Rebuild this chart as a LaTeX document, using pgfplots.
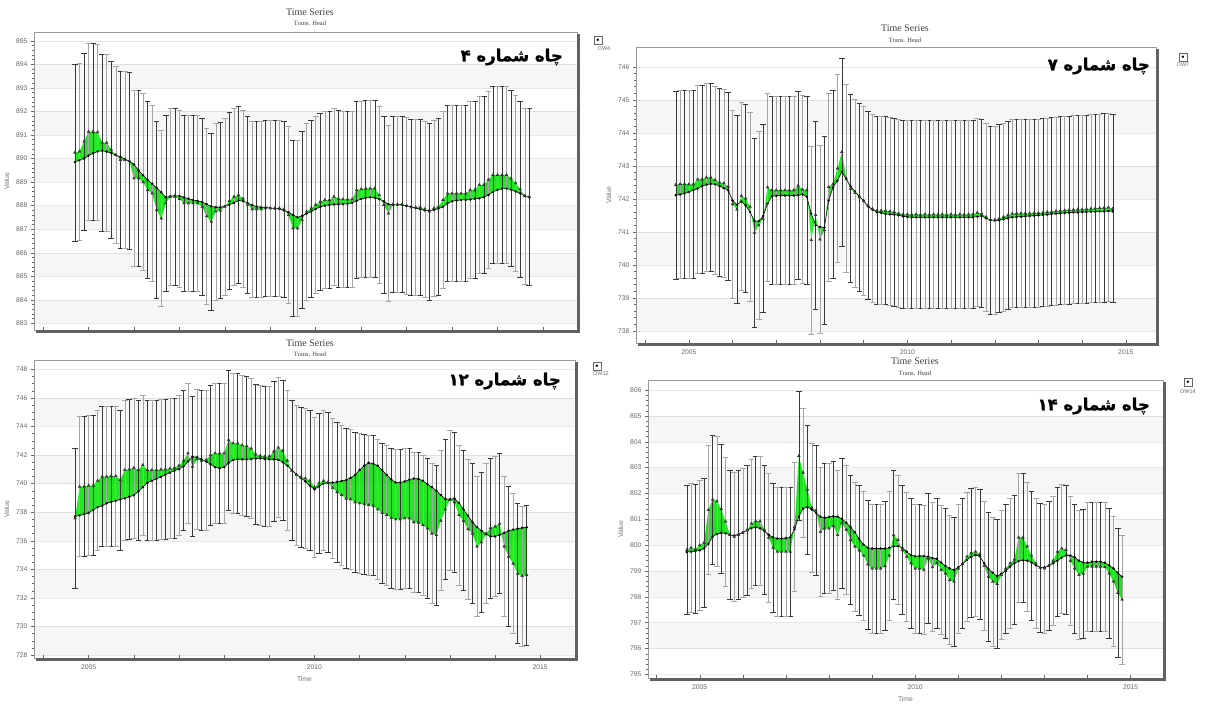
\documentclass[border=0pt]{standalone}
\usepackage{fontspec}
\setmainfont{Liberation Sans}
\newfontfamily\serif{Liberation Serif}
\newfontfamily\fa[Script=Arabic, BoldFeatures={FakeBold=1.2}]{DejaVu Sans}
\TeXXeTstate=1
\usepackage{pgfplots}
\usepackage{pgfplotstable}
\pgfplotsset{compat=1.18}
\usepgfplotslibrary{fillbetween}
\definecolor{gfill}{RGB}{35,232,35}

\pgfplotstableread{
x o c
2004.7 890.25 889.85
2004.8 890.30 889.93
2004.9 890.72 890.00
2005.0 891.14 890.12
2005.1 891.14 890.22
2005.2 891.12 890.30
2005.3 890.67 890.33
2005.4 890.67 890.29
2005.5 890.38 890.23
2005.6 890.15 890.15
2005.7 889.94 890.07
2005.8 889.94 889.98
2005.9 889.90 889.88
2006.0 889.16 889.75
2006.1 889.16 889.50
2006.2 889.00 889.29
2006.3 888.66 889.09
2006.4 888.52 888.93
2006.5 887.82 888.75
2006.6 887.46 888.57
2006.7 888.10 888.35
2006.8 888.38 888.40
2006.9 888.38 888.42
2007.0 888.28 888.41
2007.1 888.10 888.35
2007.2 888.10 888.29
2007.3 888.10 888.24
2007.4 888.10 888.20
2007.5 887.95 888.15
2007.6 887.55 888.06
2007.7 887.32 887.97
2007.8 887.75 887.93
2007.9 887.80 887.93
2008.0 887.96 887.97
2008.1 888.20 888.04
2008.2 888.38 888.12
2008.3 888.45 888.22
2008.4 888.30 888.19
2008.5 888.05 888.11
2008.6 887.85 888.02
2008.7 887.85 887.96
2008.8 887.85 887.93
2008.9 887.89 887.92
2009.0 887.89 887.90
2009.1 887.89 887.88
2009.2 887.89 887.86
2009.3 887.85 887.80
2009.4 887.60 887.72
2009.5 887.04 887.61
2009.6 887.04 887.50
2009.7 887.40 887.57
2009.8 887.75 887.66
2009.9 887.88 887.75
2010.0 888.03 887.86
2010.1 888.17 887.95
2010.2 888.24 888.00
2010.3 888.24 888.03
2010.4 888.38 888.05
2010.5 888.30 888.06
2010.6 888.27 888.07
2010.7 888.27 888.08
2010.8 888.27 888.12
2010.9 888.66 888.20
2011.0 888.70 888.28
2011.1 888.73 888.33
2011.2 888.73 888.35
2011.3 888.73 888.33
2011.4 888.45 888.27
2011.5 888.03 888.18
2011.6 887.67 888.06
2011.7 888.06 888.03
2011.8 888.06 888.03
2011.9 888.06 888.03
2012.0 888.00 887.99
2012.1 887.93 887.95
2012.2 887.93 887.90
2012.3 887.93 887.85
2012.4 887.85 887.80
2012.5 887.75 887.79
2012.6 887.89 887.82
2012.7 887.95 887.87
2012.8 888.24 887.95
2012.9 888.52 888.10
2013.0 888.52 888.18
2013.1 888.52 888.22
2013.2 888.52 888.24
2013.3 888.52 888.24
2013.4 888.66 888.26
2013.5 888.66 888.29
2013.6 888.88 888.31
2013.7 888.88 888.36
2013.8 889.10 888.45
2013.9 889.30 888.58
2014.0 889.30 888.67
2014.1 889.30 888.72
2014.2 889.30 888.72
2014.3 889.16 888.68
2014.4 888.95 888.60
2014.5 888.70 888.52
2014.6 888.40 888.42
2014.7 888.38 888.35
}\pA

\pgfplotstableread{
x o c
2004.7 742.42 742.11
2004.8 742.45 742.13
2004.9 742.45 742.16
2005.0 742.44 742.21
2005.1 742.44 742.26
2005.2 742.59 742.31
2005.3 742.59 742.38
2005.4 742.65 742.43
2005.5 742.65 742.45
2005.6 742.57 742.44
2005.7 742.50 742.39
2005.8 742.47 742.32
2005.9 742.37 742.26
2006.0 741.84 741.95
2006.1 741.68 741.82
2006.2 742.09 741.92
2006.3 742.01 741.80
2006.4 741.76 741.60
2006.5 740.97 741.33
2006.6 741.20 741.32
2006.7 741.40 741.48
2006.8 742.35 741.85
2006.9 742.26 742.08
2007.0 742.26 742.09
2007.1 742.26 742.10
2007.2 742.26 742.10
2007.3 742.26 742.10
2007.4 742.26 742.10
2007.5 742.40 742.11
2007.6 742.28 742.13
2007.7 742.26 742.06
2007.8 740.75 741.55
2007.9 741.51 741.20
2008.0 740.77 741.15
2008.1 741.05 741.13
2008.2 742.36 741.95
2008.3 742.45 742.35
2008.4 742.92 742.55
2008.5 743.42 742.82
2008.6 742.62 742.60
2008.7 742.31 742.38
2008.8 742.18 742.22
2008.9 742.05 742.08
2009.0 741.94 741.93
2009.1 741.80 741.77
2009.2 741.70 741.67
2009.3 741.64 741.60
2009.4 741.64 741.57
2009.5 741.64 741.54
2009.6 741.62 741.53
2009.7 741.60 741.52
2009.8 741.56 741.50
2009.9 741.53 741.47
2010.0 741.53 741.45
2010.1 741.52 741.44
2010.2 741.53 741.44
2010.3 741.52 741.44
2010.4 741.53 741.44
2010.5 741.52 741.44
2010.6 741.53 741.44
2010.7 741.52 741.44
2010.8 741.53 741.44
2010.9 741.52 741.44
2011.0 741.53 741.44
2011.1 741.52 741.44
2011.2 741.53 741.44
2011.3 741.52 741.44
2011.4 741.53 741.44
2011.5 741.53 741.44
2011.6 741.58 741.46
2011.7 741.55 741.48
2011.8 741.45 741.41
2011.9 741.36 741.36
2012.0 741.36 741.34
2012.1 741.40 741.35
2012.2 741.45 741.38
2012.3 741.50 741.41
2012.4 741.55 741.44
2012.5 741.56 741.45
2012.6 741.56 741.46
2012.7 741.56 741.47
2012.8 741.56 741.48
2012.9 741.57 741.49
2013.0 741.57 741.50
2013.1 741.58 741.51
2013.2 741.60 741.52
2013.3 741.61 741.54
2013.4 741.63 741.55
2013.5 741.64 741.56
2013.6 741.65 741.57
2013.7 741.66 741.58
2013.8 741.67 741.59
2013.9 741.68 741.59
2014.0 741.68 741.60
2014.1 741.69 741.60
2014.2 741.70 741.61
2014.3 741.71 741.61
2014.4 741.72 741.62
2014.5 741.73 741.62
2014.6 741.74 741.63
2014.7 741.70 741.62
}\pB

\pgfplotstableread{
x o c
2004.7 737.57 737.70
2004.8 739.79 737.78
2004.9 739.80 737.85
2005.0 739.86 737.95
2005.1 739.86 738.15
2005.2 740.20 738.35
2005.3 740.49 738.45
2005.4 740.49 738.62
2005.5 740.53 738.72
2005.6 740.53 738.80
2005.7 740.25 738.88
2005.8 740.95 738.97
2005.9 741.00 739.08
2006.0 741.10 739.18
2006.1 740.95 739.45
2006.2 741.30 739.75
2006.3 740.95 740.05
2006.4 740.95 740.20
2006.5 740.95 740.33
2006.6 740.98 740.47
2006.7 741.00 740.62
2006.8 741.05 740.77
2006.9 741.10 740.90
2007.0 741.25 741.02
2007.1 741.60 741.20
2007.2 742.12 741.55
2007.3 741.19 741.88
2007.4 741.70 741.85
2007.5 741.60 741.70
2007.6 741.65 741.55
2007.7 742.00 741.35
2007.8 742.12 741.15
2007.9 742.12 741.07
2008.0 742.12 741.15
2008.1 743.05 741.45
2008.2 742.82 741.65
2008.3 742.82 741.70
2008.4 742.68 741.70
2008.5 742.63 741.70
2008.6 742.45 741.72
2008.7 742.05 741.75
2008.8 741.95 741.77
2008.9 741.89 741.72
2009.0 741.90 741.70
2009.1 742.24 741.70
2009.2 742.52 741.65
2009.3 742.30 741.50
2009.4 741.60 741.25
2009.5 740.90 740.95
2009.6 740.60 740.65
2009.7 740.45 740.40
2009.8 740.37 740.15
2009.9 740.20 739.85
2010.0 739.75 739.60
2010.1 740.02 739.80
2010.2 740.20 740.00
2010.3 740.10 740.05
2010.4 739.70 740.07
2010.5 739.40 740.12
2010.6 739.20 740.18
2010.7 738.95 740.25
2010.8 738.90 740.40
2010.9 738.70 740.60
2011.0 738.62 740.95
2011.1 738.55 741.25
2011.2 738.50 741.45
2011.3 738.45 741.40
2011.4 738.20 741.25
2011.5 737.95 740.95
2011.6 737.80 740.60
2011.7 737.60 740.30
2011.8 737.50 740.07
2011.9 737.50 740.07
2012.0 737.57 740.15
2012.1 737.57 740.28
2012.2 737.30 740.35
2012.3 737.27 740.33
2012.4 737.10 740.20
2012.5 736.87 739.97
2012.6 736.50 739.75
2012.7 736.40 739.50
2012.8 737.40 739.20
2012.9 738.20 738.92
2013.0 738.85 738.90
2013.1 738.70 738.95
2013.2 737.80 738.65
2013.3 737.40 738.20
2013.4 736.80 737.75
2013.5 736.50 737.30
2013.6 735.60 736.95
2013.7 735.90 736.70
2013.8 736.50 736.45
2013.9 736.90 736.30
2014.0 737.00 736.30
2014.1 737.20 736.40
2014.2 735.60 736.55
2014.3 734.89 736.70
2014.4 734.40 736.78
2014.5 733.70 736.85
2014.6 733.53 736.90
2014.7 733.60 736.94
}\pC

\pgfplotstableread{
x o c
2004.7 799.81 799.73
2004.8 799.90 799.75
2004.9 799.85 799.77
2005.0 800.00 799.80
2005.1 800.10 799.87
2005.2 801.36 800.05
2005.3 801.77 800.33
2005.4 801.70 800.43
2005.5 801.40 800.47
2005.6 800.91 800.46
2005.7 800.40 800.40
2005.8 800.33 800.37
2005.9 800.40 800.42
2006.0 800.48 800.49
2006.1 800.58 800.58
2006.2 800.84 800.66
2006.3 800.93 800.69
2006.4 800.93 800.65
2006.5 800.60 800.55
2006.6 800.30 800.40
2006.7 799.90 800.30
2006.8 799.75 800.26
2006.9 799.75 800.26
2007.0 799.75 800.27
2007.1 799.75 800.30
2007.2 800.70 800.62
2007.3 803.45 801.10
2007.4 802.80 801.42
2007.5 802.15 801.47
2007.6 801.45 801.38
2007.7 801.35 801.25
2007.8 800.52 801.10
2007.9 800.65 801.06
2008.0 800.65 801.09
2008.1 800.74 801.12
2008.2 800.40 801.10
2008.3 800.85 801.02
2008.4 800.60 800.87
2008.5 800.20 800.70
2008.6 799.95 800.50
2008.7 799.80 800.24
2008.8 799.60 800.02
2008.9 799.25 799.90
2009.0 799.10 799.87
2009.1 799.10 799.87
2009.2 799.10 799.87
2009.3 799.19 799.87
2009.4 799.60 799.90
2009.5 800.39 799.95
2009.6 800.20 799.96
2009.7 799.81 799.90
2009.8 799.55 799.75
2009.9 799.30 799.62
2010.0 799.10 799.57
2010.1 799.10 799.58
2010.2 799.05 799.58
2010.3 799.49 799.56
2010.4 799.15 799.50
2010.5 799.30 799.47
2010.6 799.05 799.33
2010.7 798.91 799.20
2010.8 798.65 799.10
2010.9 798.59 799.04
2011.0 799.10 799.15
2011.1 799.30 799.27
2011.2 799.55 799.43
2011.3 799.70 799.55
2011.4 799.75 799.62
2011.5 799.65 799.57
2011.6 799.20 799.30
2011.7 798.78 799.08
2011.8 798.59 798.93
2011.9 798.50 798.80
2012.0 798.85 798.90
2012.1 799.10 799.00
2012.2 799.30 799.17
2012.3 799.45 799.30
2012.4 800.30 799.38
2012.5 800.30 799.42
2012.6 799.95 799.40
2012.7 799.60 799.33
2012.8 799.30 799.22
2012.9 799.13 799.14
2013.0 799.10 799.14
2013.1 799.20 799.20
2013.2 799.40 799.30
2013.3 799.75 799.40
2013.4 799.87 799.52
2013.5 799.82 799.60
2013.6 799.40 799.60
2013.7 799.10 799.53
2013.8 798.85 799.40
2013.9 798.90 799.33
2014.0 799.17 799.32
2014.1 799.17 799.36
2014.2 799.17 799.36
2014.3 799.17 799.36
2014.4 799.15 799.32
2014.5 798.91 799.22
2014.6 798.60 799.10
2014.7 798.15 798.93
2014.8 797.90 798.78
}\pD

\pgfplotsset{
  tsaxis/.style={
    scale only axis, anchor=south west,
    xmin=2003.8, xmax=2015.75,
    xtick={2004,...,2015},
    xticklabels={,2005,,,,,2010,,,,,2015},
    xtick pos=lower, ytick pos=left,
    tick align=outside,
    major tick length=3pt, minor tick length=1.8pt,
    tick style={black!60, line width=0.4pt},
    xtick style={yshift=3pt},
    axis line style={black!40, line width=0.5pt},
    ticklabel style={font=\fontsize{6.8}{8}\selectfont, text=black!60},
    /pgf/number format/assume math mode=true,
    /pgf/number format/1000 sep={},
    label style={font=\fontsize{6.8}{8}\selectfont, text=black!55},
    ylabel={Value},
    ymajorgrids, major grid style={black!9, line width=0.4pt},
    minor y tick num=4,
  },
  obsmk/.style={only marks, mark=triangle*, mark size=1.7pt, black!80, mark options={fill=black!75, draw=black!85, line width=0.2pt}},
  compln/.style={black, line width=0.55pt, mark=*, mark size=1.15pt, mark options={fill=black, line width=0.2pt}},
  bars/.style n args={3}{draw=none, mark=none, forget plot, unbounded coords=discard, filter discard warning=false,
    x filter/.expression={mod(\coordindex,2)==#2 ? x : nan},
    error bars/.cd, y dir=both, y fixed=#1,
    error bar style={draw=#3, line width=0.5pt},
    error mark options={draw=#3, line width=0.5pt, mark size=2.8pt, rotate=90}},
}

\newcommand{\band}[2]{\fill[black, opacity=0.035] (axis cs:2003.8,#1) rectangle (axis cs:2015.75,#2);}

\begin{document}
\begin{tikzpicture}
\path (0,0) rectangle (1221pt,-697pt);

% ---------------- panel 1 ----------------
\begin{axis}[tsaxis, name=ax1, at={(34pt,-330pt)}, width=543pt, height=298pt,
  ymin=882.72, ymax=895.37, ytick={883,...,895}, xticklabels={}]
\band{893}{894}\band{891}{892}\band{889}{890}\band{887}{888}\band{885}{886}\band{883}{884}
\addplot[draw=none, name path=o1, forget plot] table[x=x,y=o]{\pA};
\addplot[draw=none, name path=c1, forget plot] table[x=x,y=c]{\pA};
\addplot[fill=gfill, draw=none, forget plot] fill between[of=o1 and c1];
\addplot[bars={3.75}{0}{black!78}] table[x=x,y=o]{\pA};
\addplot[bars={3.75}{1}{black!35}] table[x=x,y=o]{\pA};
\addplot[compln] table[x=x,y=c]{\pA};
\addplot[obsmk] table[x=x,y=o]{\pA};
\end{axis}

% ---------------- panel 2 ----------------
\begin{axis}[tsaxis, name=ax2, at={(636pt,-343pt)}, width=520pt, height=296pt,
  xmin=2003.79, xmax=2015.69,
  ymin=737.63, ymax=746.6, ytick={738,...,746}]
\band{744}{745}\band{742}{743}\band{740}{741}\band{738}{739}
\addplot[draw=none, name path=o2, forget plot] table[x=x,y=o]{\pB};
\addplot[draw=none, name path=c2, forget plot] table[x=x,y=c]{\pB};
\addplot[fill=gfill, draw=none, forget plot] fill between[of=o2 and c2];
\addplot[bars={2.85}{0}{black!78}] table[x=x,y=o]{\pB};
\addplot[bars={2.85}{1}{black!35}] table[x=x,y=o]{\pB};
\addplot[compln] table[x=x,y=c]{\pB};
\addplot[obsmk] table[x=x,y=o]{\pB};
\end{axis}

% ---------------- panel 3 ----------------
\begin{axis}[tsaxis, name=ax3, at={(34pt,-658pt)}, width=541pt, height=298pt,
  xmin=2003.79, xmax=2015.77,
  ymin=727.79, ymax=748.65, ytick={728,730,...,748}, minor y tick num=3, xlabel={Time}]
\band{744}{746}\band{740}{742}\band{736}{738}\band{732}{734}\band{728}{730}
\addplot[draw=none, name path=o3, forget plot] table[x=x,y=o]{\pC};
\addplot[draw=none, name path=c3, forget plot] table[x=x,y=c]{\pC};
\addplot[fill=gfill, draw=none, forget plot] fill between[of=o3 and c3];
\addplot[bars={4.9}{0}{black!78}] table[x=x,y=o]{\pC};
\addplot[bars={4.9}{1}{black!35}] table[x=x,y=o]{\pC};
\addplot[compln] table[x=x,y=c]{\pC};
\addplot[obsmk] table[x=x,y=o]{\pC};
\end{axis}

% ---------------- panel 4 ----------------
\begin{axis}[tsaxis, name=ax4, at={(648pt,-678pt)}, width=515pt, height=298pt,
  ymin=794.86, ymax=806.39, ytick={795,...,806}, xlabel={Time}]
\band{804}{805}\band{802}{803}\band{800}{801}\band{798}{799}\band{796}{797}
\addplot[draw=none, name path=o4, forget plot] table[x=x,y=o]{\pD};
\addplot[draw=none, name path=c4, forget plot] table[x=x,y=c]{\pD};
\addplot[fill=gfill, draw=none, forget plot] fill between[of=o4 and c4];
\addplot[bars={2.5}{0}{black!78}] table[x=x,y=o]{\pD};
\addplot[bars={2.5}{1}{black!35}] table[x=x,y=o]{\pD};
\addplot[compln] table[x=x,y=c]{\pD};
\addplot[obsmk] table[x=x,y=o]{\pD};
\end{axis}

% shadows
\foreach \a in {ax1,ax2,ax3,ax4}{
  \fill[black!62] ([xshift=2pt,yshift=-3pt]\a.south west) rectangle ([xshift=3pt]\a.south east);
  \fill[black!62] ([yshift=-3pt]\a.south east) rectangle ([xshift=3pt,yshift=-2pt]\a.north east);
}

% titles
\begin{scope}[every node/.style={text=black!75, inner sep=0pt}]
\node[font=\serif\fontsize{10}{11}\selectfont] at (310pt,-12pt) {Time Series};
\node[font=\serif\fontsize{6.5}{7}\selectfont] at (310pt,-23pt) {Trans. Head};
\node[font=\serif\fontsize{10}{11}\selectfont] at (905pt,-28pt) {Time Series};
\node[font=\serif\fontsize{6.5}{7}\selectfont] at (905pt,-40pt) {Trans. Head};
\node[font=\serif\fontsize{10}{11}\selectfont] at (310pt,-343pt) {Time Series};
\node[font=\serif\fontsize{6.5}{7}\selectfont] at (310pt,-354pt) {Trans. Head};
\node[font=\serif\fontsize{10}{11}\selectfont] at (915pt,-361pt) {Time Series};
\node[font=\serif\fontsize{6.5}{7}\selectfont] at (915pt,-373pt) {Trans. Head};
\end{scope}

% Persian panel labels
\begin{scope}[every node/.style={text=black, inner sep=0pt, anchor=east, font=\fa\bfseries\fontsize{16.5}{19}\selectfont}]
\node at (563pt,-57pt) {\beginR چاه شماره ۴\endR};
\node at (1150pt,-66pt) {\beginR چاه شماره ۷\endR};
\node at (561pt,-381pt) {\beginR چاه شماره ۱۲\endR};
\node at (1150pt,-406pt) {\beginR چاه شماره ۱۴\endR};
\end{scope}

% legend icons
\begin{scope}[every node/.style={inner sep=0pt}]
\node[draw=black!60, minimum width=8pt, minimum height=8pt, font=\fontsize{5}{5}\selectfont] at (598pt,-40pt) {$\bullet$};
\node[font=\fontsize{5.5}{6}\selectfont, text=black!60] at (604pt,-49pt) {OW4};
\node[draw=black!60, minimum width=8pt, minimum height=8pt, font=\fontsize{5}{5}\selectfont] at (1183pt,-57pt) {$\bullet$};
\node[font=\fontsize{5.5}{6}\selectfont, text=black!60] at (1183pt,-65pt) {OW7};
\node[draw=black!60, minimum width=8pt, minimum height=8pt, font=\fontsize{5}{5}\selectfont] at (597pt,-366pt) {$\bullet$};
\node[font=\fontsize{5.5}{6}\selectfont, text=black!60] at (601pt,-374pt) {OW12};
\node[draw=black!60, minimum width=8pt, minimum height=8pt, font=\fontsize{5}{5}\selectfont] at (1188pt,-382pt) {$\bullet$};
\node[font=\fontsize{5.5}{6}\selectfont, text=black!60] at (1188pt,-392pt) {OW14};
\end{scope}
\end{tikzpicture}
\end{document}
